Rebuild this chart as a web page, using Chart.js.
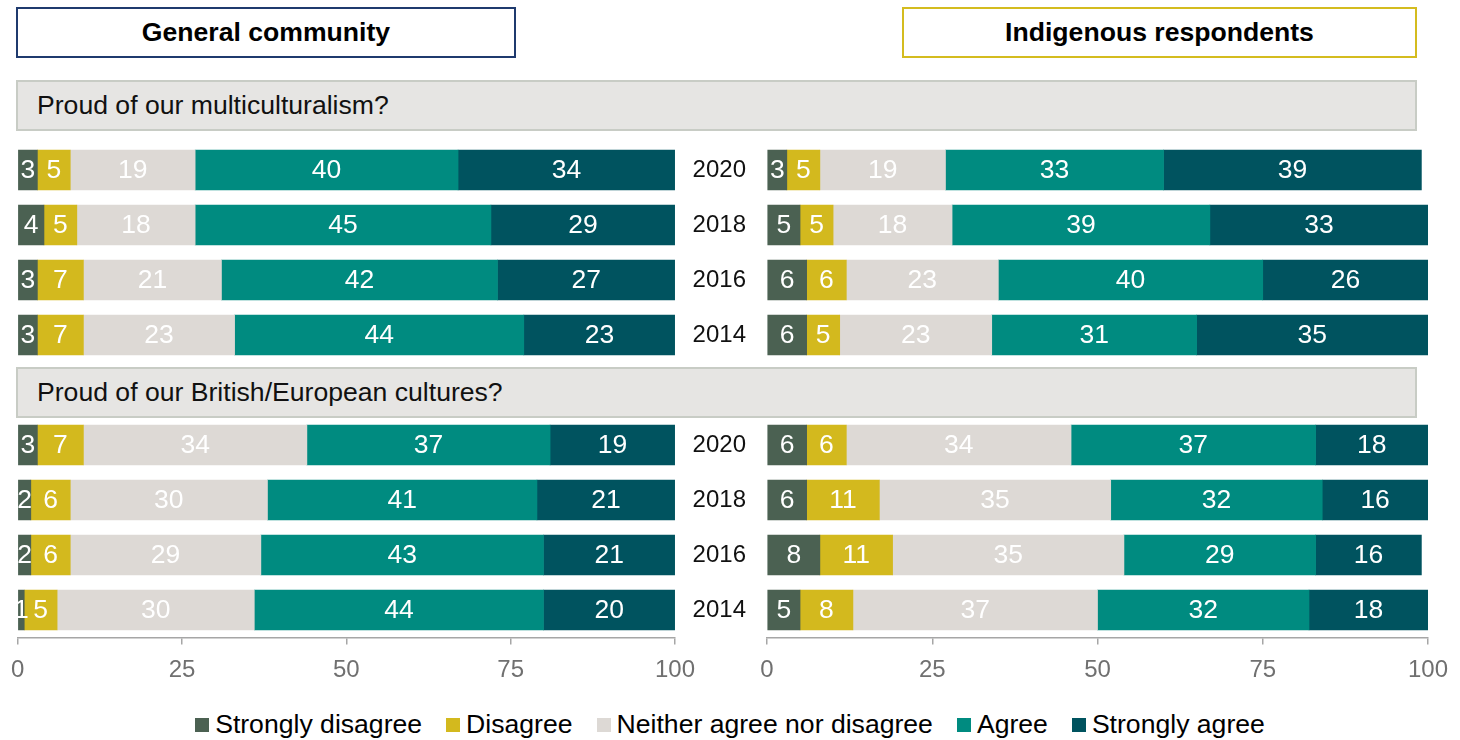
<!DOCTYPE html>
<html>
<head>
<meta charset="utf-8">
<script src="https://cdn.jsdelivr.net/npm/chart.js@4/dist/chart.umd.min.js"></script>
<style>
  html, body { margin: 0; padding: 0; }
  body { width: 1460px; height: 740px; position: relative; background: #fff; overflow: hidden;
         font-family: "Liberation Sans", Arial, Helvetica, sans-serif; }
  .hbox { position: absolute; box-sizing: border-box; background: #fff; display: flex; align-items: center;
          justify-content: center; font-weight: bold; font-size: 26.6px; color: #000; top: 7px; height: 51px; }
  .sect { position: absolute; left: 16px; width: 1401px; height: 51px; box-sizing: border-box; background: #e6e5e3;
          border: 2px solid #c8ccc5; font-size: 26.6px; color: #111; padding-left: 19px; display: flex; align-items: center; }
  canvas { position: absolute; }
  #legend { position: absolute; top: 709px; left: 0; width: 1460px; display: flex; justify-content: center;
            font-size: 26.6px; line-height: 30px; color: #000; padding-left: 0; }
  .li { display: flex; align-items: center; margin: 0 12px; }
  .sw { width: 14px; height: 14px; margin-right: 6px; margin-top: 2px; }
</style>
</head>
<body>
<div id="t1" class="hbox" style="left:16px;width:500px;border:2px solid #1f3a6e;"></div>
<div id="t2" class="hbox" style="left:902px;width:515px;border:2px solid #d4bc1f;"></div>
<div id="q1" class="sect" style="top:80px;"></div>
<div id="q2" class="sect" style="top:367px;"></div>
<canvas id="cLeft" width="706" height="560" style="left:0;top:140px;"></canvas>
<canvas id="cRight" width="780" height="560" style="left:680px;top:140px;"></canvas>
<div id="legend"></div>
<script>
// ---------- DATA ----------
const panelTitles = ['General community', 'Indigenous respondents'];
const questions = ['Proud of our multiculturalism?', 'Proud of our British/European cultures?'];
const rowLabels = ['2020', '2018', '2016', '2014', '', '2020', '2018', '2016', '2014'];
const seriesNames = ['Strongly disagree', 'Disagree', 'Neither agree nor disagree', 'Agree', 'Strongly agree'];
const xTicks = [0, 25, 50, 75, 100];

// General community (rows: multiculturalism 2020..2014, gap, British/European 2020..2014)
const generalStronglyDisagree = [3, 4, 3, 3, null, 3, 2, 2, 1];
const generalDisagree         = [5, 5, 7, 7, null, 7, 6, 6, 5];
const generalNeither          = [19, 18, 21, 23, null, 34, 30, 29, 30];
const generalAgree            = [40, 45, 42, 44, null, 37, 41, 43, 44];
const generalStronglyAgree    = [34, 29, 27, 23, null, 19, 21, 21, 20];

// Indigenous respondents
const indigStronglyDisagree = [3, 5, 6, 6, null, 6, 6, 8, 5];
const indigDisagree         = [5, 5, 6, 5, null, 6, 11, 11, 8];
const indigNeither          = [19, 18, 23, 23, null, 34, 35, 35, 37];
const indigAgree            = [33, 39, 40, 31, null, 37, 32, 29, 32];
const indigStronglyAgree    = [39, 33, 26, 35, null, 18, 16, 16, 18];

// ---------- STYLE ----------
const colors = ['#4b6152', '#d3b91e', '#ddd9d5', '#008b80', '#00535f'];
const FONT = '"Liberation Sans", Arial, Helvetica, sans-serif';
Chart.defaults.font.family = FONT;

document.getElementById('t1').textContent = panelTitles[0];
document.getElementById('t2').textContent = panelTitles[1];
document.getElementById('q1').textContent = questions[0];
document.getElementById('q2').textContent = questions[1];

const legend = document.getElementById('legend');
seriesNames.forEach((n, i) => {
  const it = document.createElement('div'); it.className = 'li';
  const sw = document.createElement('div'); sw.className = 'sw'; sw.style.background = colors[i];
  const tx = document.createElement('span'); tx.textContent = n;
  it.appendChild(sw); it.appendChild(tx); legend.appendChild(it);
});

const valueLabels = {
  id: 'valueLabels',
  afterDatasetsDraw(chart) {
    const ctx = chart.ctx;
    ctx.save();
    ctx.font = '26.5px ' + FONT;
    ctx.fillStyle = '#ffffff';
    ctx.textAlign = 'center';
    ctx.textBaseline = 'middle';
    chart.data.datasets.forEach((ds, i) => {
      const meta = chart.getDatasetMeta(i);
      meta.data.forEach((el, j) => {
        const v = ds.data[j];
        if (v === null || v === undefined) return;
        const left = Math.min(el.base, el.x), right = Math.min(Math.max(el.base, el.x), chart.chartArea.right);
        ctx.fillText(String(v), (left + right) / 2, el.y + 1);
      });
    });
    ctx.restore();
  }
};

function makeDatasets(arrs) {
  return arrs.map((d, i) => ({
    label: seriesNames[i],
    data: d,
    backgroundColor: colors[i],
    borderWidth: 0,
    barThickness: 40
  }));
}

function makeChart(id, arrs, showYears, padding) {
  return new Chart(document.getElementById(id), {
    type: 'bar',
    data: { labels: rowLabels, datasets: makeDatasets(arrs) },
    options: {
      indexAxis: 'y',
      responsive: false,
      animation: false,
      layout: { padding: padding },
      plugins: { legend: { display: false }, tooltip: { enabled: false } },
      scales: {
        x: {
          stacked: true, min: 0, max: 100,
          afterBuildTicks: s => { s.ticks = xTicks.map(v => ({ value: v })); },
          afterFit: s => { s.height = 50; },
          ticks: { font: { size: 24 }, color: '#707070', padding: 11, maxRotation: 0 },
          grid: { drawOnChartArea: false, drawTicks: true, tickLength: 7, color: '#a6a6a6', lineWidth: 1.5 },
          border: { display: true, color: '#a6a6a6', width: 1.5 }
        },
        y: {
          stacked: true,
          display: showYears,
          afterFit: s => { s.width = showYears ? 87 : 0; },
          ticks: { font: { size: 24, lineHeight: 0.2 }, color: '#111', padding: 0 },
          grid: { display: true, drawOnChartArea: false, drawTicks: true, tickLength: 21, color: 'rgba(0,0,0,0)' },
          border: { display: false }
        }
      }
    },
    plugins: [valueLabels]
  });
}

makeChart('cLeft',
  [generalStronglyDisagree, generalDisagree, generalNeither, generalAgree, generalStronglyAgree],
  false, { left: 16, right: 31, top: 2.5, bottom: 12.5 });
makeChart('cRight',
  [indigStronglyDisagree, indigDisagree, indigNeither, indigAgree, indigStronglyAgree],
  true, { left: 0, right: 32, top: 2.5, bottom: 12.5 });
</script>
</body>
</html>
